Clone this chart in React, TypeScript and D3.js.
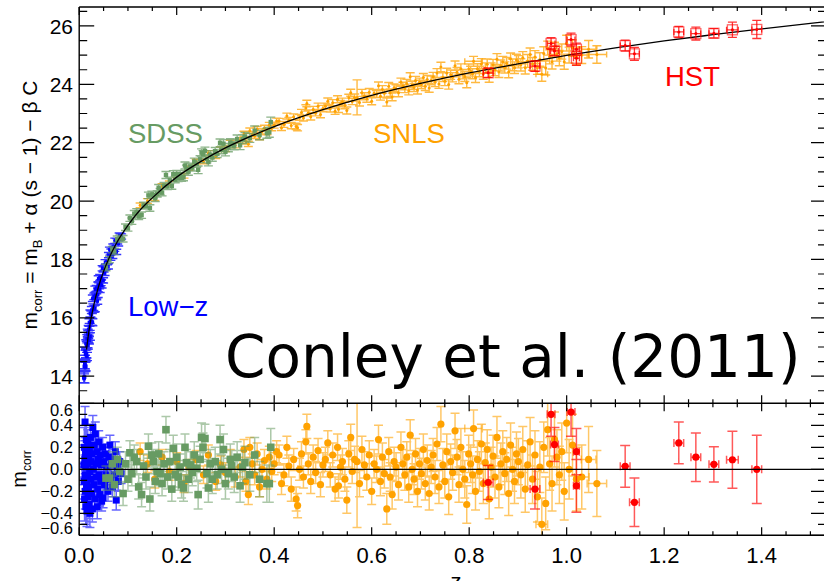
import React from "react";
import * as d3 from "d3";

// Model curve (z, m)
const curveZ = [0.01, 0.015, 0.02, 0.03, 0.04, 0.05, 0.06, 0.07, 0.08, 0.1, 0.12, 0.15, 0.2, 0.25, 0.3, 0.4, 0.5, 0.6, 0.7, 0.8, 0.9, 1.0, 1.1, 1.2, 1.3, 1.4, 1.5, 1.6];
const curveM = [14.03, 14.91, 15.55, 16.44, 17.09, 17.59, 18.0, 18.35, 18.66, 19.17, 19.6, 20.11, 20.82, 21.36, 21.82, 22.55, 23.13, 23.62, 24.03, 24.39, 24.7, 24.99, 25.25, 25.49, 25.7, 25.9, 26.09, 26.26];

// [z, residual, error, zError]
const lowzData: number[][] = [
  [0.0095, 0.04, 0.18], [0.010, -0.11, 0.16], [0.0105, 0.2, 0.18], [0.011, -0.27, 0.2], [0.0115, 0.09, 0.17],
  [0.012, 0.43, 0.14], [0.012, -0.05, 0.18], [0.0125, -0.2, 0.16], [0.013, 0.14, 0.15], [0.0135, -0.34, 0.16],
  [0.014, 0.02, 0.15], [0.0145, 0.27, 0.14], [0.015, -0.14, 0.15], [0.0155, 0.07, 0.14], [0.016, -0.38, 0.14],
  [0.0165, 0.16, 0.14], [0.017, -0.07, 0.14], [0.0175, 0.23, 0.13], [0.018, -0.25, 0.14], [0.0185, 0.05, 0.13],
  [0.019, -0.16, 0.13], [0.0195, 0.11, 0.13], [0.02, -0.32, 0.13], [0.021, 0.18, 0.13], [0.0215, -0.02, 0.12],
  [0.022, -0.4, 0.13], [0.023, 0.29, 0.12], [0.024, -0.09, 0.12], [0.025, 0.07, 0.12], [0.0255, -0.22, 0.12],
  [0.026, 0.14, 0.12], [0.027, -0.36, 0.12], [0.028, 0.38, 0.11], [0.029, 0.0, 0.11], [0.03, -0.14, 0.11],
  [0.031, 0.22, 0.11], [0.032, -0.27, 0.11], [0.033, 0.32, 0.11], [0.034, 0.05, 0.11], [0.035, -0.07, 0.1],
  [0.036, 0.16, 0.1], [0.037, -0.34, 0.11], [0.038, -0.18, 0.1], [0.039, 0.09, 0.1], [0.04, 0.25, 0.1],
  [0.041, -0.05, 0.1], [0.042, -0.23, 0.1], [0.043, 0.13, 0.1], [0.044, -0.11, 0.09], [0.045, 0.04, 0.09],
  [0.046, -0.29, 0.09], [0.048, 0.2, 0.09], [0.049, -0.26, 0.09], [0.05, 0.07, 0.09], [0.052, -0.14, 0.09],
  [0.054, 0.14, 0.09], [0.055, -0.05, 0.09], [0.057, 0.02, 0.09], [0.059, -0.2, 0.09], [0.061, 0.11, 0.09],
  [0.063, 0.22, 0.09], [0.064, -0.09, 0.09], [0.066, 0.05, 0.09], [0.068, -0.16, 0.09], [0.07, 0.09, 0.09],
  [0.072, -0.05, 0.09], [0.074, 0.16, 0.09], [0.076, -0.28, 0.09], [0.078, 0.02, 0.09], [0.08, -0.11, 0.09],
  [0.083, 0.07, 0.09], [0.086, -0.04, 0.09],
];

const sdssData: number[][] = [
  [0.055, -0.08, 0.11], [0.062, -0.08, 0.11], [0.068, 0.05, 0.11], [0.072, -0.14, 0.11], [0.078, 0.09, 0.11],
  [0.083, -0.02, 0.11], [0.09, -0.22, 0.11], [0.095, 0.05, 0.11], [0.1, -0.09, 0.11], [0.104, 0.15, 0.11],
  [0.108, -0.04, 0.11], [0.113, 0.11, 0.11], [0.118, 0.07, 0.11], [0.122, -0.16, 0.11], [0.128, -0.23, 0.11],
  [0.132, 0.03, 0.11], [0.137, -0.07, 0.11], [0.142, 0.21, 0.11], [0.145, -0.27, 0.11], [0.149, 0.13, 0.11],
  [0.152, 0.07, 0.11], [0.156, -0.11, 0.11], [0.16, -0.02, 0.11], [0.163, 0.14, 0.11], [0.166, -0.04, 0.11],
  [0.17, -0.13, 0.11], [0.174, 0.05, 0.11], [0.178, 0.36, 0.12], [0.181, -0.07, 0.11], [0.186, 0.07, 0.11],
  [0.19, -0.18, 0.11], [0.193, 0.19, 0.12], [0.197, -0.05, 0.11], [0.2, 0.11, 0.12], [0.203, -0.07, 0.12],
  [0.207, 0.02, 0.12], [0.21, -0.14, 0.12], [0.214, -0.17, 0.12], [0.217, 0.2, 0.12], [0.22, 0.06, 0.12],
  [0.224, -0.09, 0.12], [0.228, 0.04, 0.12], [0.232, -0.03, 0.12], [0.236, 0.13, 0.12], [0.241, 0.01, 0.12],
  [0.244, -0.23, 0.13], [0.248, 0.09, 0.12], [0.251, 0.29, 0.13], [0.254, 0.2, 0.13], [0.258, 0.28, 0.13],
  [0.262, -0.04, 0.13], [0.265, -0.17, 0.13], [0.269, 0.05, 0.13], [0.273, -0.09, 0.13], [0.279, 0.07, 0.13],
  [0.283, -0.05, 0.13], [0.289, 0.27, 0.13], [0.292, 0.0, 0.13], [0.296, 0.18, 0.14], [0.3, -0.13, 0.14],
  [0.306, -0.04, 0.14], [0.31, 0.09, 0.14], [0.313, 0.03, 0.14], [0.318, -0.07, 0.14], [0.324, 0.11, 0.14],
  [0.33, -0.15, 0.15], [0.335, 0.02, 0.15], [0.34, 0.06, 0.15], [0.35, -0.05, 0.15], [0.36, 0.13, 0.16],
  [0.37, -0.09, 0.16], [0.385, -0.13, 0.17], [0.39, -0.13, 0.17], [0.393, 0.2, 0.17],
];

const snlsData: number[][] = [
  [0.125, 0.16, 0.08], [0.14, 0.05, 0.08], [0.155, -0.09, 0.08], [0.17, 0.11, 0.07], [0.185, -0.02, 0.08],
  [0.2, 0.07, 0.08], [0.215, -0.13, 0.08], [0.225, 0.02, 0.07], [0.24, 0.09, 0.08], [0.255, -0.05, 0.08],
  [0.265, 0.13, 0.09], [0.28, -0.11, 0.08], [0.29, 0.04, 0.08], [0.3, -0.03, 0.09],
  [0.31, 0.09, 0.09], [0.32, -0.07, 0.09], [0.33, 0.02, 0.09], [0.338, 0.18, 0.09], [0.342, -0.11, 0.09],
  [0.347, -0.23, 0.09], [0.35, 0.2, 0.09], [0.355, 0.05, 0.09], [0.36, -0.05, 0.09], [0.365, 0.14, 0.1],
  [0.37, -0.16, 0.09], [0.375, 0.0, 0.09], [0.38, 0.08, 0.1], [0.385, -0.09, 0.09], [0.39, 0.11, 0.1],
  [0.395, -0.02, 0.09], [0.4, 0.05, 0.1], [0.405, 0.16, 0.1], [0.41, 0.13, 0.09], [0.415, -0.13, 0.1],
  [0.42, -0.05, 0.1], [0.426, 0.2, 0.1], [0.43, 0.03, 0.1], [0.435, -0.18, 0.11], [0.44, 0.09, 0.1],
  [0.445, -0.27, 0.11], [0.448, -0.33, 0.11], [0.452, 0.0, 0.1], [0.456, 0.14, 0.11], [0.46, -0.07, 0.1],
  [0.465, 0.25, 0.11], [0.467, 0.39, 0.11], [0.47, 0.05, 0.1], [0.475, -0.11, 0.11], [0.48, 0.11, 0.11],
  [0.485, -0.03, 0.1], [0.49, 0.17, 0.11], [0.495, -0.14, 0.11], [0.5, 0.04, 0.11],
  [0.505, 0.09, 0.11], [0.51, 0.24, 0.11], [0.515, -0.05, 0.11], [0.52, 0.13, 0.11], [0.525, -0.18, 0.11],
  [0.53, 0.2, 0.12], [0.532, -0.15, 0.11], [0.536, 0.02, 0.11], [0.54, 0.07, 0.12], [0.545, -0.09, 0.11],
  [0.549, -0.28, 0.12], [0.553, 0.14, 0.12], [0.557, 0.29, 0.12], [0.56, -0.02, 0.11], [0.565, 0.09, 0.12],
  [0.57, 0.07, 0.6], [0.575, -0.13, 0.12], [0.58, 0.18, 0.12], [0.585, 0.04, 0.12], [0.59, -0.07, 0.12],
  [0.595, 0.13, 0.13], [0.6, -0.2, 0.12], [0.605, 0.05, 0.13], [0.61, 0.0, 0.12], [0.614, 0.27, 0.13],
  [0.618, -0.11, 0.13], [0.622, 0.11, 0.13], [0.626, -0.04, 0.13], [0.631, -0.36, 0.14], [0.635, 0.16, 0.13],
  [0.638, -0.07, 0.13], [0.642, -0.23, 0.13], [0.646, 0.07, 0.13], [0.65, 0.02, 0.13], [0.655, -0.14, 0.14],
  [0.66, 0.2, 0.14], [0.664, 0.05, 0.13], [0.668, -0.05, 0.14], [0.672, 0.11, 0.14], [0.676, -0.16, 0.14],
  [0.679, 0.31, 0.14], [0.683, 0.0, 0.14], [0.687, -0.09, 0.14], [0.69, 0.14, 0.14], [0.694, -0.2, 0.14],
  [0.698, 0.05, 0.14],
  [0.702, -0.04, 0.14], [0.706, 0.18, 0.14], [0.71, -0.13, 0.15], [0.714, 0.08, 0.14], [0.718, -0.22, 0.15],
  [0.722, 0.02, 0.15], [0.726, 0.13, 0.15], [0.73, -0.07, 0.15], [0.734, 0.23, 0.15], [0.738, -0.16, 0.15],
  [0.742, 0.41, 0.16], [0.746, 0.04, 0.15], [0.75, -0.11, 0.15], [0.754, 0.16, 0.16], [0.758, -0.25, 0.16],
  [0.762, 0.07, 0.16], [0.766, -0.03, 0.16], [0.771, 0.35, 0.16], [0.775, 0.11, 0.16], [0.779, -0.14, 0.16],
  [0.783, 0.2, 0.17], [0.787, 0.0, 0.16], [0.791, -0.09, 0.17], [0.795, -0.32, 0.17], [0.799, 0.14, 0.17],
  [0.803, 0.05, 0.17], [0.807, -0.05, 0.17], [0.809, 0.37, 0.17, 0.018], [0.813, -0.2, 0.17], [0.817, 0.09, 0.17],
  [0.821, -0.02, 0.18], [0.825, 0.23, 0.18], [0.829, -0.13, 0.18], [0.833, 0.06, 0.18], [0.837, 0.18, 0.18],
  [0.841, -0.27, 0.18], [0.845, 0.02, 0.18], [0.849, 0.12, 0.19], [0.853, -0.07, 0.19], [0.857, 0.29, 0.19],
  [0.861, -0.16, 0.19], [0.865, 0.05, 0.19], [0.869, 0.16, 0.19], [0.873, -0.04, 0.19], [0.877, 0.09, 0.2],
  [0.881, -0.22, 0.2], [0.885, 0.22, 0.2], [0.889, 0.0, 0.2], [0.893, -0.11, 0.2], [0.897, 0.14, 0.2],
  [0.901, 0.07, 0.21], [0.906, -0.05, 0.21], [0.91, 0.18, 0.21], [0.915, -0.18, 0.21], [0.92, 0.04, 0.22],
  [0.925, 0.25, 0.22], [0.93, -0.09, 0.22], [0.935, 0.13, 0.22], [0.94, -0.25, 0.23], [0.945, 0.02, 0.23],
  [0.949, -0.5, 0.24, 0.012], [0.953, 0.2, 0.23], [0.957, -0.31, 0.24], [0.961, 0.36, 0.24], [0.965, 0.05, 0.24],
  [0.97, -0.13, 0.25], [0.975, 0.27, 0.25], [0.98, 0.11, 0.25], [0.985, -0.05, 0.26], [0.99, 0.16, 0.26],
  [0.995, -0.2, 0.26], [1.0, 0.42, 0.27], [1.005, 0.0, 0.27], [1.012, 0.22, 0.28], [1.02, -0.09, 0.29],
  [1.031, -0.07, 0.29, 0.015], [1.045, 0.09, 0.3, 0.015], [1.062, -0.13, 0.3, 0.02],
];

const hstData: number[][] = [
  [0.839, -0.12, 0.155, 0.01], [0.935, -0.18, 0.18, 0.01], [0.968, 0.5, 0.2, 0.008], [0.975, 0.225, 0.155, 0.008],
  [1.009, 0.52, 0.22, 0.008], [1.02, 0.16, 0.21, 0.006], [1.02, -0.15, 0.24, 0.006], [1.12, 0.027, 0.19, 0.01],
  [1.139, -0.3, 0.22, 0.01], [1.23, 0.24, 0.19, 0.01], [1.265, 0.11, 0.22, 0.01], [1.302, 0.045, 0.16, 0.01],
  [1.34, 0.087, 0.26, 0.012], [1.39, 0.0, 0.31, 0.01],
];

const xTickValues = [0, 0.2, 0.4, 0.6, 0.8, 1.0, 1.2, 1.4];
const xTickLabels = ["0.0", "0.2", "0.4", "0.6", "0.8", "1.0", "1.2", "1.4"];
const topYTickValues = [14, 16, 18, 20, 22, 24, 26];
const botYTickValues = [0.6, 0.4, 0.2, 0, -0.2, -0.4, -0.6];
const botYTickLabels = ["0.6", "0.4", "0.2", "0.0", "\u22120.2", "\u22120.4", "\u22120.6"];

const BLUE = "#0000ff";
const GREEN = "#679b63";
const ORANGE = "#ffa200";
const RED = "#ff0000";
const SANS = "'Liberation Sans', Arial, Helvetica, sans-serif";

export default function App() {
  const L = 79.2, R = 826, T = 7, MID = 403.3, B = 535.3;
  const x = d3.scaleLinear().domain([0, 1.532]).range([L, R]);
  const yT = d3.scaleLinear().domain([13.07, 26.65]).range([MID, T]);
  const yB = d3.scaleLinear().domain([-0.6, 0.6]).range([B, MID]);
  const model = d3.scaleLog().domain(curveZ).range(curveM);

  const curveIdx = d3.range(1, curveZ.length);
  const linePath = d3
    .line<number>()
    .x((i) => x(curveZ[i]))
    .y((i) => yT(curveM[i]))
    .curve(d3.curveMonotoneX)(curveIdx) as string;

  const vbars = (data: number[][], yv: (d: number[]) => number, ys: d3.ScaleLinear<number, number>, cap: number) =>
    data
      .map((d) => {
        const cx = x(d[0]);
        const y1 = ys(yv(d) - d[2]);
        const y2 = ys(yv(d) + d[2]);
        const h = cap / 2;
        return `M${cx},${y1}V${y2}M${cx - h},${y1}h${cap}M${cx - h},${y2}h${cap}`;
      })
      .join("");
  const hbars = (data: number[][], yv: (d: number[]) => number, ys: d3.ScaleLinear<number, number>, cap: number) =>
    data
      .filter((d) => d[3])
      .map((d) => {
        const cy = ys(yv(d));
        const x1 = x(d[0] - d[3]);
        const x2 = x(d[0] + d[3]);
        const h = cap / 2;
        return `M${x1},${cy}H${x2}M${x1},${cy - h}v${cap}M${x2},${cy - h}v${cap}`;
      })
      .join("");

  const topVal = (d: number[]) => model(d[0]) + d[1];
  const resVal = (d: number[]) => d[1];

  const xMinor = d3.range(0, 1.5001, 0.05);
  const topMinor = d3.range(13.5, 26.6, 0.5);
  const botMinor = d3.range(-0.6, 0.6001, 0.1);
  const isMajor = (v: number, step: number) => Math.abs(v / step - Math.round(v / step)) < 1e-6;

  let tickPath = "";
  xMinor.forEach((v) => {
    const px = x(v);
    const major = isMajor(v, 0.2);
    const len = major ? 8 : 4;
    tickPath += `M${px},${T}v${len}M${px},${MID}v${-len}M${px},${MID}v${len}M${px},${B}v${-len}`;
  });
  topMinor.forEach((v) => {
    const py = yT(v);
    const len = isMajor(v, 2) ? 15 : 8;
    tickPath += `M${L},${py}h${len}M${R},${py}h${-len}`;
  });
  botMinor.forEach((v) => {
    const py = yB(v);
    const len = isMajor(v, 0.2) ? 15 : 8;
    tickPath += `M${L},${py}h${len}M${R},${py}h${-len}`;
  });

  return (
    <svg width={824} height={581} style={{ position: "absolute", left: 0, top: 0, background: "#fff" }} fontFamily={SANS}>
      <defs>
        <clipPath id="clipTop">
          <rect x={L} y={T} width={R - L} height={MID - T} />
        </clipPath>
        <clipPath id="clipBot">
          <rect x={L} y={MID} width={R - L} height={B - MID} />
        </clipPath>
      </defs>
      <rect x={0} y={0} width={824} height={581} fill="#fff" />

      {/* Top panel */}
      <g clipPath="url(#clipTop)">
        <path d={vbars(lowzData, topVal, yT, 10)} stroke={BLUE} strokeOpacity={0.8} strokeWidth={1.4} fill="none" />
        {lowzData.map((d, i) => (
          <rect key={"lt" + i} x={x(d[0]) - 1.8} y={yT(topVal(d)) - 1.8} width={3.6} height={3.6} fill={BLUE} />
        ))}
        <path d={vbars(snlsData, topVal, yT, 9)} stroke={ORANGE} strokeOpacity={0.75} strokeWidth={1.4} fill="none" />
        <path d={hbars(snlsData, topVal, yT, 6)} stroke={ORANGE} strokeOpacity={0.75} strokeWidth={1.4} fill="none" />
        {snlsData.map((d, i) => (
          <circle key={"st" + i} cx={x(d[0])} cy={yT(topVal(d))} r={1.5} fill={ORANGE} />
        ))}
        <path d={vbars(sdssData, topVal, yT, 9)} stroke={GREEN} strokeOpacity={0.75} strokeWidth={1.4} fill="none" />
        {sdssData.map((d, i) => (
          <rect key={"gt" + i} x={x(d[0]) - 2.2} y={yT(topVal(d)) - 2.2} width={4.4} height={4.4} fill={GREEN} />
        ))}
        <path d={linePath} stroke="#000" strokeWidth={1.3} fill="none" />
        <path d={vbars(hstData, topVal, yT, 9)} stroke={RED} strokeOpacity={0.8} strokeWidth={1.3} fill="none" />
        <path d={hbars(hstData, topVal, yT, 6)} stroke={RED} strokeOpacity={0.8} strokeWidth={1.3} fill="none" />
        {hstData.map((d, i) => (
          <g key={"ht" + i}>
            <rect x={x(d[0]) - 5} y={yT(topVal(d)) - 5} width={10} height={10} fill="none" stroke={RED} strokeOpacity={0.6} strokeWidth={1.3} />
            <circle cx={x(d[0])} cy={yT(topVal(d))} r={1.5} fill={RED} />
          </g>
        ))}
      </g>

      {/* Bottom panel */}
      <g clipPath="url(#clipBot)">
        <path d={vbars(lowzData, resVal, yB, 9)} stroke={BLUE} strokeOpacity={0.6} strokeWidth={1.5} fill="none" />
        {lowzData.map((d, i) => (
          <rect key={"lb" + i} x={x(d[0]) - 3.5} y={yB(d[1]) - 3.5} width={7} height={7} fill={BLUE} />
        ))}
        <path d={vbars(snlsData, resVal, yB, 9)} stroke={ORANGE} strokeOpacity={0.6} strokeWidth={1.5} fill="none" />
        <path d={hbars(snlsData, resVal, yB, 8)} stroke={ORANGE} strokeOpacity={0.6} strokeWidth={1.5} fill="none" />
        {snlsData.map((d, i) => (
          <circle key={"sb" + i} cx={x(d[0])} cy={yB(d[1])} r={3.6} fill={ORANGE} />
        ))}
        <path d={vbars(sdssData, resVal, yB, 9)} stroke={GREEN} strokeOpacity={0.55} strokeWidth={1.5} fill="none" />
        {sdssData.map((d, i) => (
          <rect key={"gb" + i} x={x(d[0]) - 3.8} y={yB(d[1]) - 3.8} width={7.6} height={7.6} fill={GREEN} />
        ))}
        <path d={vbars(hstData, resVal, yB, 10)} stroke={RED} strokeOpacity={0.65} strokeWidth={1.5} fill="none" />
        <path d={hbars(hstData, resVal, yB, 8)} stroke={RED} strokeOpacity={0.65} strokeWidth={1.5} fill="none" />
        {hstData.map((d, i) => (
          <circle key={"hb" + i} cx={x(d[0])} cy={yB(d[1])} r={3.6} fill={RED} />
        ))}
        <line x1={L} x2={R} y1={yB(0)} y2={yB(0)} stroke="#000" strokeWidth={1.3} />
      </g>

      {/* Frames and ticks */}
      <path d={tickPath} stroke="#000" strokeWidth={1.2} fill="none" />
      <path d={`M${L},${T}V${B}M${L},${T}H${R}M${L},${MID}H${R}M${L},${B}H${R}`} stroke="#000" strokeWidth={1.4} fill="none" />

      {/* Tick labels */}
      {topYTickValues.map((v) => (
        <text key={"ty" + v} x={73} y={yT(v)} dy="0.36em" textAnchor="end" fontSize={21}>
          {v}
        </text>
      ))}
      {botYTickValues.map((v, i) => (
        <text key={"by" + v} x={73} y={Math.max(410, Math.min(528.5, yB(v)))} dy="0.36em" textAnchor="end" fontSize={16.5}>
          {botYTickLabels[i]}
        </text>
      ))}
      {xTickValues.map((v, i) => (
        <text key={"bx" + v} x={x(v)} y={563} textAnchor="middle" fontSize={22}>
          {xTickLabels[i]}
        </text>
      ))}
      <text x={456} y={589} textAnchor="middle" fontSize={22}>z</text>

      {/* Axis titles */}
      <text transform="translate(37,205) rotate(-90)" textAnchor="middle" fontSize={21}>
        m<tspan fontSize={13} dy={5}>corr</tspan>
        <tspan dy={-5}> = m</tspan>
        <tspan fontSize={13} dy={5}>B</tspan>
        <tspan dy={-5}> + α (s − 1) − β C</tspan>
      </text>
      <text transform="translate(26,469) rotate(-90)" textAnchor="middle" fontSize={20}>
        m<tspan fontSize={12} dy={5}>corr</tspan>
      </text>

      {/* Survey labels */}
      <text x={128} y={143} fontSize={27.5} fill={GREEN}>SDSS</text>
      <text x={373} y={143} fontSize={27.5} fill={ORANGE}>SNLS</text>
      <text x={665} y={86} fontSize={27.5} fill={RED}>HST</text>
      <text x={128} y={316} fontSize={27.5} fill={BLUE}>Low−z</text>

      <text x={225} y={377} fontSize={58} fontFamily="'DejaVu Sans', sans-serif" fill="#000">
        Conley et al. (2011)
      </text>
    </svg>
  );
}
